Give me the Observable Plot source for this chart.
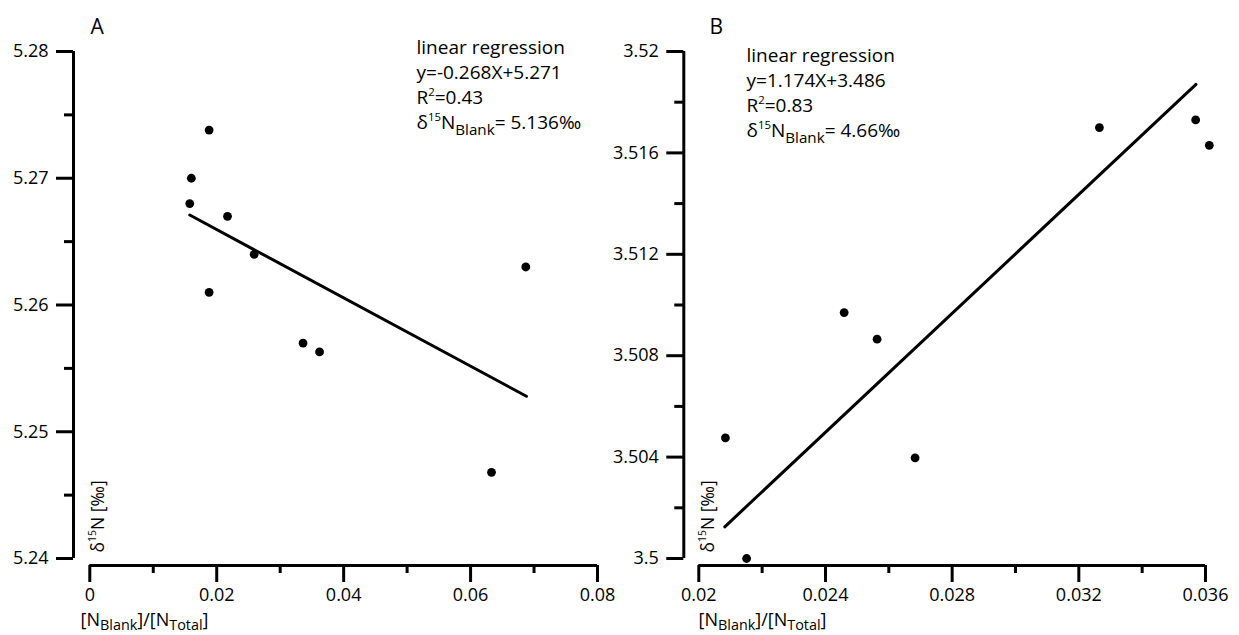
<!DOCTYPE html>
<html><head><meta charset="utf-8">
<script src="https://cdn.jsdelivr.net/npm/d3@7"></script>
<script src="https://cdn.jsdelivr.net/npm/@observablehq/plot@0.6"></script>
<style>
html,body{margin:0;padding:0;background:#fff;}
#wrap{display:flex;width:1239px;height:635px;overflow:hidden;}
#wrap svg{display:block;flex:none;}
#wrap svg g[aria-label$="tick"] path{stroke:#000 !important;stroke-width:3px !important;}
#wrap svg g[aria-label="rule"] line{stroke:#000 !important;stroke-width:3px !important;}
#wrap svg text{fill:#000;}
</style></head><body><div id="wrap"></div>
<script>
// ---- Panel A data ----
const aX = [0.0188, 0.0160, 0.01575, 0.0217, 0.0259, 0.0188, 0.0336, 0.0362, 0.0633, 0.0687];
const aY = [5.2738, 5.2700, 5.2680, 5.2670, 5.2640, 5.2610, 5.2570, 5.2563, 5.2468, 5.2630];
const aFitX = [0.01575, 0.0688];
const aFitY = [5.2671, 5.2528];
const aXTicks = [0, 0.02, 0.04, 0.06, 0.08];
const aXMinor = [0.01, 0.03, 0.05, 0.07];
const aYTicks = [5.24, 5.25, 5.26, 5.27, 5.28];
const aYMinor = [5.245, 5.255, 5.265, 5.275];
const aNote = [
  [["linear regression"]],
  [["y=-0.268X+5.271"]],
  [["R"], ["2", "sup"], ["=0.43"]],
  [["δ"], ["15", "sup"], ["N"], ["Blank", "sub"], ["= 5.136‰"]]
];

// ---- Panel B data ----
const bX = [0.02459, 0.03265, 0.03569, 0.03612, 0.02563, 0.02084, 0.02683, 0.02151];
const bY = [3.5097, 3.5170, 3.5173, 3.5163, 3.50865, 3.50476, 3.50397, 3.5000];
const bFitX = [0.02082, 0.0357];
const bFitY = [3.50125, 3.5187];
const bXTicks = [0.02, 0.024, 0.028, 0.032, 0.036];
const bXMinor = [0.022, 0.026, 0.030, 0.034];
const bYTicks = [3.5, 3.504, 3.508, 3.512, 3.516, 3.52];
const bYMinor = [3.502, 3.506, 3.510, 3.514, 3.518];
const bNote = [
  [["linear regression"]],
  [["y=1.174X+3.486"]],
  [["R"], ["2", "sup"], ["=0.83"]],
  [["δ"], ["15", "sup"], ["N"], ["Blank", "sub"], ["= 4.66‰"]]
];

// ---- shared labels ----
const xTitle = [["[N"], ["Blank", "sub"], ["]/[N"], ["Total", "sub"], ["]"]];
const yTitle = [["δ"], ["15", "sup"], ["N [‰]"]];

const plain = parts => parts.map(p => p[0]).join("");

function rich(svg, parts, size, subShift) {
  const s = plain(parts);
  d3.select(svg).selectAll("text").filter(function () { return this.textContent === s; }).each(function () {
    const t = d3.select(this);
    t.text(null);
    let shift = 0;
    for (const [str, mode] of parts) {
      const off = mode === "sup" ? -0.42 * size : mode === "sub" ? (subShift ?? 0.33) * size : 0;
      const fs = mode === "sup" ? 0.6 * size : mode === "sub" ? 0.8 * size : size;
      t.append("tspan").attr("dy", off - shift).attr("font-size", fs).text(str);
      shift = off;
    }
  });
}

function panel(cfg) {
  const pts = cfg.X.map((x, i) => ({x, y: cfg.Y[i]}));
  const fit = cfg.fitX.map((x, i) => ({x, y: cfg.fitY[i]}));
  const xd = [cfg.xT[0], cfg.xT[cfg.xT.length - 1]];
  const yd = [cfg.yT[0], cfg.yT[cfg.yT.length - 1]];
  const insetB = 7;
  const marks = [
    Plot.ruleX([xd[0]], {y1: yd[0], y2: yd[1], dx: -cfg.insetL, stroke: "black", strokeWidth: 3}),
    Plot.ruleY([yd[0]], {x1: xd[0], x2: xd[1], dy: insetB, stroke: "black", strokeWidth: 3}),
    Plot.axisY(cfg.yT, {tickSize: 17, tickPadding: 8, strokeWidth: 3, tickFormat: d => String(d), label: null, fontSize: 18}),
    Plot.axisY(cfg.yM, {tickSize: 9, tickPadding: 0, strokeWidth: 3, tickFormat: () => "", label: null}),
    Plot.axisX(cfg.xT, {tickSize: 17, tickPadding: 6, strokeWidth: 3, tickFormat: d => String(d), label: null, fontSize: 18}),
    Plot.axisX(cfg.xM, {tickSize: 8, tickPadding: 0, strokeWidth: 3, tickFormat: () => "", label: null}),
    Plot.line(fit, {x: "x", y: "y", stroke: "black", strokeWidth: 3}),
    Plot.dot(pts, {x: "x", y: "y", r: 4.4, fill: "black", stroke: "none"}),
    Plot.text([cfg.letter], {text: d => d, frameAnchor: "top-left", textAnchor: "start", lineAnchor: "bottom", dx: cfg.letterDx, dy: -18, fontSize: 21}),
    ...cfg.note.map((parts, i) => Plot.text([plain(parts)], {text: d => d, frameAnchor: "top-left", textAnchor: "start", lineAnchor: "bottom", dx: cfg.noteDx, dy: cfg.noteDy[i], fontSize: 19})),
    Plot.text([plain(xTitle)], {text: d => d, frameAnchor: "bottom-left", textAnchor: "start", lineAnchor: "bottom", dx: cfg.xTitleDx, dy: 60, fontSize: 18}),
    Plot.text([plain(yTitle)], {text: d => d, frameAnchor: "bottom-left", textAnchor: "start", lineAnchor: "bottom", rotate: -90, dx: 30, dy: -13, fontSize: 17.5})
  ];
  const svg = Plot.plot({
    width: cfg.width,
    height: 635,
    marginLeft: cfg.ml,
    marginRight: cfg.mr,
    marginTop: 51,
    marginBottom: 70,
    x: {domain: xd, insetLeft: cfg.insetL, insetRight: 0},
    y: {domain: yd, insetBottom: insetB, insetTop: 0},
    style: {fontFamily: "'Open Sans', sans-serif", fontSize: "18px", background: "white", color: "black", overflow: "visible"},
    marks
  });
  cfg.note.forEach(parts => rich(svg, parts, 19, 0.33));
  rich(svg, xTitle, 18, 0.25);
  rich(svg, yTitle, 17.5, 0.3);
  return svg;
}

const wrap = document.getElementById("wrap");
wrap.appendChild(panel({
  letter: "A", X: aX, Y: aY, fitX: aFitX, fitY: aFitY,
  xT: aXTicks, xM: aXMinor, yT: aYTicks, yM: aYMinor, note: aNote,
  width: 620, ml: 73, mr: 23, insetL: 16.3,
  letterDx: 17, noteDx: 343, noteDy: [2, 27, 52, 77], xTitleDx: 7
}));
wrap.appendChild(panel({
  letter: "B", X: bX, Y: bY, fitX: bFitX, fitY: bFitY,
  xT: bXTicks, xM: bXMinor, yT: bYTicks, yM: bYMinor, note: bNote,
  width: 619, ml: 63.3, mr: 34, insetL: 15,
  letterDx: 25.7, noteDx: 62.7, noteDy: [10, 35, 60, 85], xTitleDx: 14.7
}));
</script>
</body></html>
